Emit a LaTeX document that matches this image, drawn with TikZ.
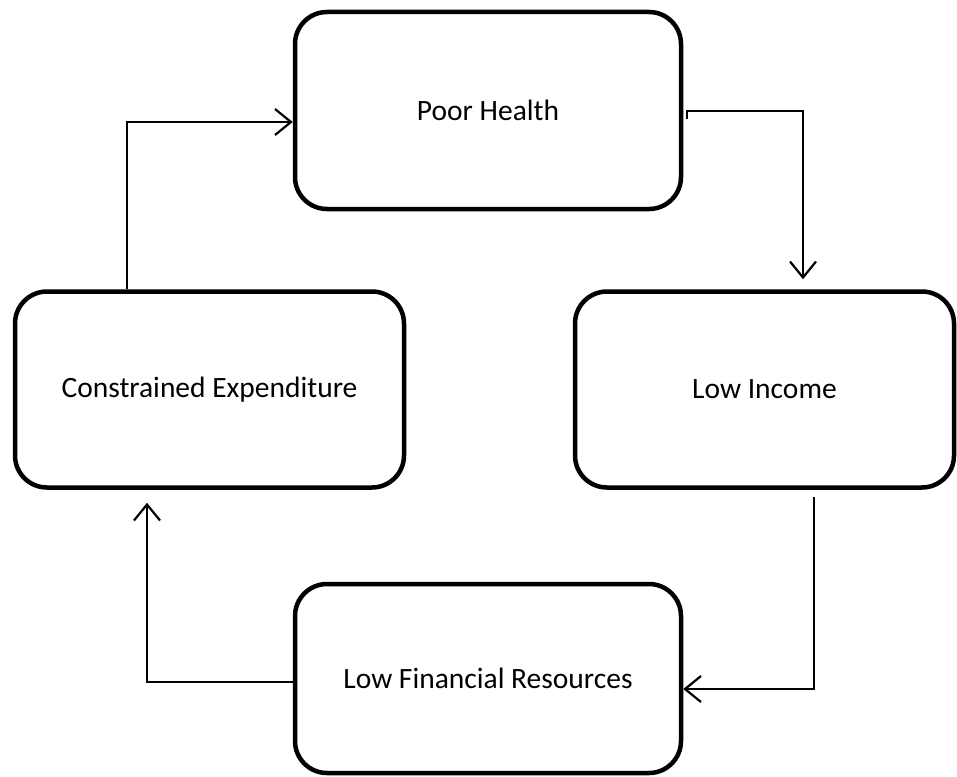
\documentclass[tikz,border=0pt]{standalone}
\usepackage{fontspec}
\setmainfont{Carlito}
\usetikzlibrary{arrows.meta}
\begin{document}
\begin{tikzpicture}[x=1pt,y=-1pt,
  box/.style={draw, line width=4.5pt, rounded corners=32pt, align=center,
    font=\fontsize{29.5}{34}\selectfont, inner sep=0pt},
  conn/.style={line width=2pt, -{Straight Barb[length=16pt,width=26pt,line width=2.2pt]}}]
\useasboundingbox (0,0) rectangle (957,776);
\node[box, minimum width=386pt, minimum height=197pt] (ph) at (488,110.5) {Poor Health};
\node[box, minimum width=389pt, minimum height=196pt] (ce) at (209.5,389.5) {Constrained Expenditure};
\node[box, minimum width=379pt, minimum height=196pt] (li) at (764.5,389.5) {Low Income};
\node[box, minimum width=386pt, minimum height=189pt] (lf) at (488,678.5) {Low Financial Resources};
% helper coordinates
\coordinate (c1) at (127,122);
\coordinate (c2a) at (687,119);
\coordinate (c2b) at (803,111);
\coordinate (c3) at (814,689);
\coordinate (c4) at (147,682);
% connectors
\draw[conn] (ce.north -| c1) |- (ph.west |- c1);
\draw[conn, shorten >=10pt] (c2a) |- (c2b) -- (li.north -| c2b);
\draw[conn] ([yshift=-7pt]li.south -| c3) |- (lf.east |- c3);
\draw[conn, shorten >=13pt] ([xshift=4pt]lf.west |- c4) -| (ce.south -| c4);
\end{tikzpicture}
\end{document}
